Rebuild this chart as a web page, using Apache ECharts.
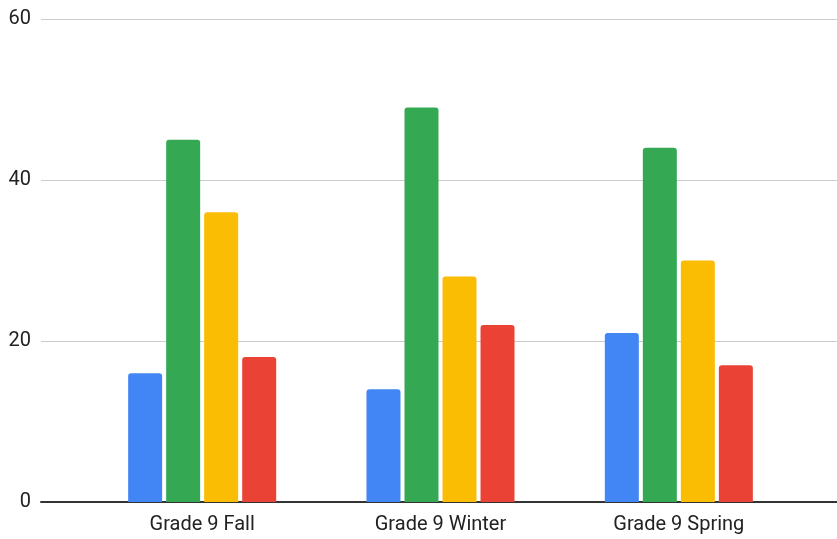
<!DOCTYPE html>
<html><head><meta charset="utf-8">
<script src="https://cdn.jsdelivr.net/npm/echarts@6/dist/echarts.min.js"></script>
<style>html,body{margin:0;padding:0;background:#fff}#c{width:837px;height:539px}</style>
</head><body><div id="c"></div>
<script>
const categories = ['Grade 9 Fall', 'Grade 9 Winter', 'Grade 9 Spring'];
const seriesBlue = [16, 14, 21];
const seriesGreen = [45, 49, 44];
const seriesYellow = [36, 28, 30];
const seriesRed = [18, 22, 17];
const yTicks = [0, 20, 40, 60];
const colors = ['#4285F4', '#34A853', '#FBBC04', '#EA4335'];

const chart = echarts.init(document.getElementById('c'));
const font = 'Roboto, Arial, sans-serif';
const mk = (data, i) => ({
  type: 'bar', data, xAxisIndex: 1, yAxisIndex: 1,
  barWidth: 34, barGap: '11.8%',
  itemStyle: { color: colors[i], borderRadius: [3, 3, 0, 0] },
  emphasis: { disabled: true }
});
chart.setOption({
  animation: false,
  grid: [
    { left: 41, right: 0, top: 19, bottom: 37 },
    { left: 83, right: 39, top: 19, bottom: 37 }
  ],
  xAxis: [
    { type: 'value', gridIndex: 0, min: 0, max: 1, show: true,
      axisLine: { show: true, onZero: false, lineStyle: { color: '#333', width: 2 } },
      axisTick: { show: false }, axisLabel: { show: false }, splitLine: { show: false } },
    { type: 'category', gridIndex: 1, data: categories,
      axisLine: { show: false }, axisTick: { show: false },
      axisLabel: { color: '#222', fontSize: 20, fontFamily: font, margin: 13 } }
  ],
  yAxis: [
    { type: 'value', gridIndex: 0, min: yTicks[0], max: yTicks[yTicks.length - 1], interval: 20,
      axisLine: { show: false }, axisTick: { show: false },
      axisLabel: { color: '#222', fontSize: 20, fontFamily: font, margin: 10 },
      splitLine: { lineStyle: { color: '#cccccc', width: 1 } } },
    { type: 'value', gridIndex: 1, min: 0, max: 60, interval: 20, show: false }
  ],
  series: [mk(seriesBlue, 0), mk(seriesGreen, 1), mk(seriesYellow, 2), mk(seriesRed, 3)]
});
</script></body></html>
